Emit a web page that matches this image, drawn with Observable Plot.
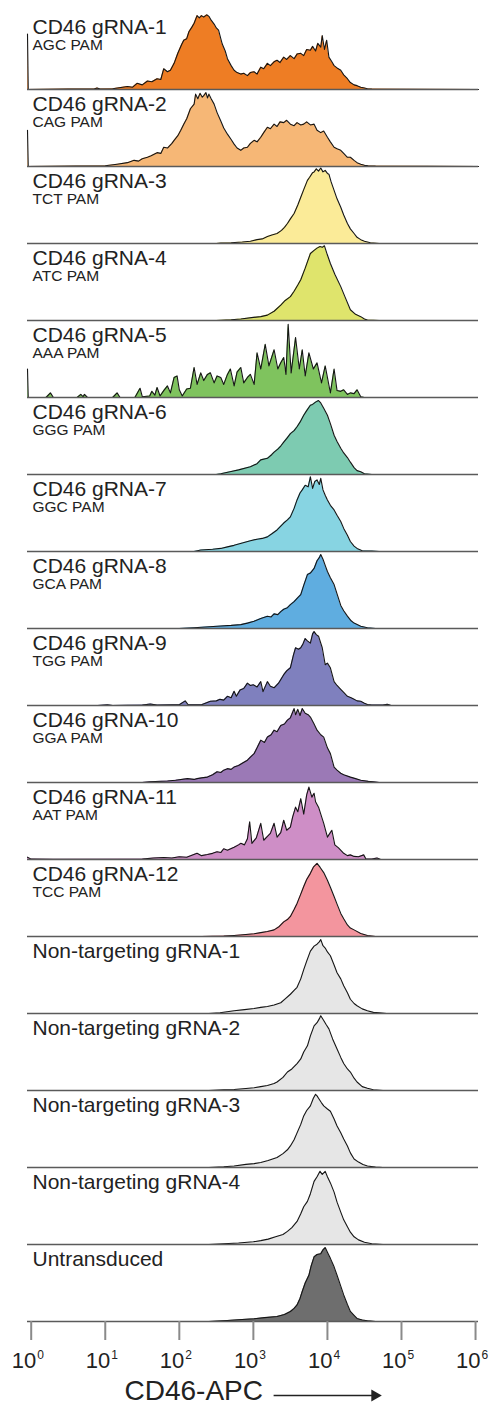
<!DOCTYPE html>
<html><head><meta charset="utf-8">
<script src="https://cdn.jsdelivr.net/npm/d3@7"></script>
<script src="https://cdn.jsdelivr.net/npm/@observablehq/plot@0.6"></script>
<style>body{margin:0;background:#fff}</style>
</head><body><div id="chart"></div>
<script>
const samples = ["CD46 gRNA-1","CD46 gRNA-2","CD46 gRNA-3","CD46 gRNA-4","CD46 gRNA-5","CD46 gRNA-6","CD46 gRNA-7","CD46 gRNA-8","CD46 gRNA-9","CD46 gRNA-10","CD46 gRNA-11","CD46 gRNA-12","Non-targeting gRNA-1","Non-targeting gRNA-2","Non-targeting gRNA-3","Non-targeting gRNA-4","Untransduced"];
const pams = ["AGC PAM","CAG PAM","TCT PAM","ATC PAM","AAA PAM","GGG PAM","GGC PAM","GCA PAM","TGG PAM","GGA PAM","AAT PAM","TCC PAM","","","","",""];
const fills = ["#EE7D24","#F6B776","#FBEB98","#DFE46C","#7FC35E","#7DCBB1","#87D4E2","#5FADE0","#7F80BE","#9B79B6","#CE8EC6","#F3959E","#E6E6E6","#E6E6E6","#E6E6E6","#E6E6E6","#6E6E6E"];
const tickValues = [1,10,100,1000,10000,100000,1000000];
const tickBase = "10";
const tickExponents = ["0","1","2","3","4","5","6"];
const axisTitle = "CD46-APC";

// each series: [log10(CD46-APC), % of mode]
const g1 = [[-0.05,72],[-0.04,0],[0.5,0.5],[0.85,0.5],[0.89,2],[0.93,0.5],[1.1,1],[1.3,4],[1.37,3],[1.43,8],[1.5,6],[1.57,11],[1.63,10],[1.7,14],[1.75,13],[1.79,27],[1.84,23],[1.88,25],[1.93,34],[1.98,47],[2.03,58],[2.06,64],[2.1,66],[2.13,75],[2.17,81],[2.2,86],[2.24,96],[2.27,93],[2.3,96],[2.33,94],[2.37,97],[2.4,95],[2.43,90],[2.47,85],[2.5,80],[2.53,77],[2.56,66],[2.58,59],[2.62,50],[2.65,40],[2.7,31],[2.74,25],[2.78,22],[2.83,20],[2.87,21],[2.92,18],[2.96,22],[3.01,23],[3.05,20],[3.1,29],[3.14,27],[3.19,34],[3.23,31],[3.28,36],[3.32,38],[3.36,35],[3.41,42],[3.45,39],[3.5,44],[3.55,40],[3.59,46],[3.64,47],[3.68,44],[3.72,52],[3.77,51],[3.8,56],[3.84,50],[3.87,60],[3.91,55],[3.93,70],[3.96,52],[3.99,64],[4.02,42],[4.06,36],[4.09,31],[4.13,28],[4.18,25],[4.22,19],[4.27,14],[4.31,9],[4.36,6],[4.4,5],[4.45,3],[4.5,2],[4.54,1],[4.6,0.5],[5,0.3],[6.04,0]];
const g2 = [[-0.05,47],[-0.04,0],[0.6,0.5],[1.0,1],[1.16,3],[1.3,5],[1.39,8],[1.45,7],[1.5,10],[1.57,12],[1.62,14],[1.7,18],[1.75,17],[1.79,25],[1.84,24],[1.9,30],[1.93,34],[1.98,40],[2.02,47],[2.06,55],[2.1,62],[2.15,75],[2.2,81],[2.22,94],[2.25,88],[2.28,95],[2.31,90],[2.33,92],[2.36,96],[2.38,89],[2.4,94],[2.43,88],[2.47,81],[2.51,70],[2.56,59],[2.6,50],[2.65,42],[2.7,35],[2.74,29],[2.78,24],[2.83,21],[2.87,24],[2.92,25],[2.96,30],[3.01,34],[3.05,32],[3.1,38],[3.14,44],[3.19,51],[3.23,49],[3.28,55],[3.32,52],[3.36,58],[3.41,57],[3.45,60],[3.5,55],[3.55,53],[3.59,57],[3.64,54],[3.68,55],[3.72,58],[3.77,54],[3.82,55],[3.86,47],[3.91,44],[3.95,46],[4.0,38],[4.04,32],[4.09,25],[4.13,23],[4.18,21],[4.22,17],[4.27,12],[4.31,12],[4.36,8],[4.4,5],[4.45,3],[4.5,1.5],[4.55,1],[4.65,0.5],[6.04,0]];
const g3 = [[2.5,0],[2.56,0.5],[2.7,1],[2.85,2],[2.96,3],[3.05,5],[3.12,6],[3.19,9],[3.25,11],[3.32,13],[3.38,17],[3.42,21],[3.46,26],[3.5,32],[3.55,39],[3.6,50],[3.64,60],[3.68,70],[3.73,82],[3.76,86],[3.8,92],[3.82,93],[3.85,97],[3.88,94],[3.91,98],[3.94,93],[3.97,95],[4.0,91],[4.02,90],[4.05,80],[4.09,69],[4.13,58],[4.18,47],[4.22,37],[4.27,26],[4.31,19],[4.36,13],[4.4,8],[4.45,5],[4.5,3],[4.58,1],[4.7,0]];
const g4 = [[2.5,0],[2.7,1],[2.83,2],[3.0,4],[3.1,5],[3.19,7],[3.28,12],[3.37,20],[3.43,26],[3.5,31],[3.55,38],[3.6,46],[3.64,53],[3.7,68],[3.77,87],[3.82,91],[3.86,94],[3.9,96],[3.93,95],[3.96,97],[4.0,85],[4.04,74],[4.1,60],[4.18,44],[4.24,30],[4.31,14],[4.38,8],[4.45,5],[4.5,2],[4.54,0.5],[4.7,0]];
const g5 = [[-0.05,37],[-0.04,0],[0.2,0],[0.26,6],[0.3,0],[0.62,0],[0.67,4],[0.7,1],[0.72,4],[0.76,0],[1.1,0],[1.16,6],[1.2,0],[1.4,0],[1.47,12],[1.5,1],[1.6,2],[1.63,8],[1.67,3],[1.7,13],[1.74,2],[1.79,9],[1.84,15],[1.88,6],[1.93,26],[1.97,28],[2.0,10],[2.04,2],[2.1,11],[2.15,12],[2.2,39],[2.24,17],[2.29,32],[2.33,22],[2.38,30],[2.42,32],[2.47,19],[2.51,28],[2.56,26],[2.6,17],[2.65,30],[2.69,37],[2.74,15],[2.78,33],[2.83,39],[2.87,19],[2.92,26],[2.96,30],[3.01,17],[3.05,58],[3.1,37],[3.16,69],[3.21,41],[3.28,62],[3.33,37],[3.37,45],[3.41,52],[3.44,30],[3.47,95],[3.51,32],[3.57,78],[3.62,37],[3.66,62],[3.7,28],[3.75,58],[3.81,37],[3.86,45],[3.92,19],[3.97,41],[4.04,6],[4.09,37],[4.13,9],[4.18,8],[4.22,10],[4.27,4],[4.31,6],[4.36,5],[4.4,10],[4.45,1],[4.5,0]];
const g6 = [[2.5,0],[2.56,1],[2.7,4],[2.8,6],[2.96,10],[3.05,14],[3.1,19],[3.19,21],[3.25,26],[3.28,29],[3.33,33],[3.37,37],[3.41,42],[3.46,48],[3.5,53],[3.55,57],[3.59,62],[3.63,68],[3.68,77],[3.72,83],[3.77,90],[3.8,91],[3.84,94],[3.88,96],[3.91,93],[3.95,86],[4.0,77],[4.04,66],[4.09,51],[4.13,43],[4.18,34],[4.22,28],[4.27,22],[4.31,16],[4.36,9],[4.4,5],[4.45,3.5],[4.5,1],[4.6,0]];
const g7 = [[2.2,0],[2.29,2],[2.45,3],[2.56,4],[2.65,6],[2.74,8],[2.85,11],[2.96,14],[3.05,16],[3.12,17],[3.19,19],[3.25,23],[3.32,28],[3.37,33],[3.41,37],[3.46,41],[3.5,45],[3.55,56],[3.59,67],[3.63,76],[3.66,80],[3.7,86],[3.74,84],[3.77,97],[3.8,82],[3.83,91],[3.86,93],[3.89,87],[3.91,95],[3.94,80],[3.97,73],[4.0,67],[4.04,60],[4.09,54],[4.13,47],[4.18,39],[4.22,30],[4.27,21],[4.31,13],[4.36,7],[4.4,4],[4.47,1],[4.6,0.5],[4.7,0]];
const g8 = [[2.0,0],[2.2,1],[2.51,3],[2.7,4],[2.83,5],[2.92,7],[3.01,9.5],[3.1,13],[3.19,16],[3.24,15],[3.28,19],[3.33,18],[3.37,22],[3.41,25],[3.46,27],[3.5,31],[3.55,35],[3.6,40],[3.64,44],[3.68,56],[3.73,70],[3.77,72],[3.82,78],[3.86,88],[3.89,92],[3.91,96],[3.94,90],[3.97,82],[4.0,74],[4.04,66],[4.09,57],[4.13,45],[4.18,30],[4.22,23],[4.27,16],[4.32,10],[4.36,7],[4.45,3],[4.54,1],[4.65,0]];
const g9 = [[0.9,0],[1.03,1],[1.1,0],[1.5,0.5],[1.61,2],[1.7,0.5],[1.9,1],[2.0,1],[2.08,6],[2.12,1],[2.3,1],[2.42,5.6],[2.5,6],[2.55,8],[2.6,7],[2.65,12],[2.7,10],[2.74,18.5],[2.77,12],[2.82,20],[2.87,22],[2.92,29],[2.96,26],[3.0,27],[3.05,24],[3.1,31],[3.13,18],[3.19,31],[3.23,25],[3.28,23],[3.34,29],[3.41,40],[3.45,45],[3.5,49],[3.54,65],[3.57,75],[3.61,73],[3.64,75],[3.67,80],[3.7,87],[3.73,84],[3.77,81],[3.8,93],[3.82,96],[3.85,92],[3.88,90],[3.93,75],[3.97,53],[4.0,55],[4.04,49],[4.09,31],[4.13,26],[4.18,21],[4.22,17],[4.27,12],[4.32,10],[4.36,8],[4.4,6],[4.45,5.6],[4.5,3],[4.54,1.3],[4.6,0.5],[4.75,0.5],[4.81,1.5],[4.86,0]];
const g10 = [[1.5,0],[1.6,1],[1.84,2],[1.95,3],[2.11,5],[2.2,4],[2.24,5],[2.3,6],[2.38,7],[2.45,10],[2.51,14],[2.56,13],[2.6,16],[2.65,18],[2.7,17],[2.74,20],[2.8,22],[2.85,25],[2.92,29],[2.96,33],[3.01,37.5],[3.05,45],[3.1,55],[3.15,52],[3.19,59],[3.24,62],[3.28,68],[3.32,66],[3.37,74],[3.42,76],[3.46,81],[3.5,84],[3.55,96],[3.57,88],[3.6,95],[3.63,87],[3.66,96],[3.7,90],[3.74,88],[3.77,85],[3.82,76],[3.86,68],[3.91,62],[3.95,59],[4.0,45],[4.04,37.5],[4.09,20],[4.13,16],[4.18,12],[4.22,10],[4.31,7],[4.38,5],[4.45,3],[4.55,1.5],[4.62,1],[4.7,0]];
const g11 = [[-0.05,3],[0.0,0.5],[0.3,0.3],[1.5,0.5],[1.65,2],[1.79,2.6],[1.9,2],[2.0,3.5],[2.1,3],[2.24,8],[2.3,5],[2.38,6.5],[2.45,8],[2.51,10],[2.56,9],[2.6,14],[2.65,12],[2.74,16],[2.8,19],[2.83,21],[2.88,19],[2.92,27],[2.95,49],[2.98,21],[3.04,28],[3.1,47],[3.14,25],[3.19,30],[3.23,34],[3.28,47],[3.32,29],[3.37,35],[3.41,51],[3.45,38],[3.5,42],[3.53,55],[3.57,68],[3.6,62],[3.64,79],[3.68,59],[3.72,84],[3.75,94],[3.79,81],[3.82,86],[3.84,75],[3.88,68],[3.95,47],[4.0,29],[4.06,38],[4.1,19],[4.15,15],[4.22,8],[4.27,5],[4.31,6],[4.36,4],[4.42,3.5],[4.49,6],[4.52,0.5],[4.6,0.5],[4.67,2],[4.72,0]];
const g12 = [[2.3,0],[2.6,0.5],[2.74,1.3],[2.9,2.5],[3.01,3.5],[3.1,5],[3.19,6.5],[3.28,8.6],[3.35,13],[3.41,19],[3.46,22],[3.5,26],[3.55,35],[3.59,43],[3.64,55],[3.68,65],[3.72,74],[3.77,82],[3.81,90],[3.86,95],[3.9,90],[3.95,83],[4.0,73],[4.04,64],[4.09,52],[4.13,42],[4.18,30],[4.22,23],[4.27,15],[4.31,11],[4.36,8.6],[4.45,4],[4.54,1.3],[4.65,0]];
const nt1 = [[2.4,0],[2.55,1],[2.74,3.5],[2.88,5],[3.01,6.5],[3.1,8],[3.19,9],[3.28,11],[3.37,14],[3.43,19],[3.5,25],[3.55,30],[3.59,34],[3.64,45],[3.68,57],[3.72,68],[3.77,81],[3.82,87.5],[3.86,90],[3.89,93],[3.91,96],[3.94,88],[3.97,85],[4.0,80],[4.04,75],[4.09,63],[4.13,53],[4.18,45],[4.22,36],[4.27,27],[4.31,18.5],[4.36,13],[4.4,10],[4.47,6],[4.54,3.5],[4.62,1.5],[4.7,1],[4.8,0]];
const nt2 = [[2.4,0],[2.6,1],[2.74,1.3],[2.9,2.5],[3.01,3.5],[3.1,5],[3.19,6.5],[3.28,9],[3.32,11],[3.4,17],[3.46,24],[3.52,28],[3.59,35],[3.64,41],[3.68,50],[3.73,58],[3.77,71],[3.82,84],[3.86,88],[3.89,93],[3.91,97],[3.95,91],[3.98,86],[4.02,80],[4.07,67],[4.13,54],[4.18,43],[4.22,35],[4.27,28],[4.31,24],[4.36,16],[4.4,11],[4.47,5],[4.54,3],[4.62,1],[4.75,0]];
const nt3 = [[2.4,0],[2.6,1],[2.74,2],[2.9,4],[3.01,5],[3.1,6.5],[3.2,9],[3.32,13],[3.4,18],[3.46,23],[3.5,28],[3.55,36],[3.59,45],[3.64,56],[3.68,67],[3.72,74],[3.77,80],[3.81,90],[3.84,95],[3.86,93],[3.88,90],[3.92,84],[3.95,80],[4.0,76],[4.04,73],[4.09,63],[4.13,54],[4.18,45],[4.22,37],[4.27,28],[4.31,19],[4.36,11],[4.42,7],[4.48,4],[4.54,2],[4.65,0.5],[4.75,0]];
const nt4 = [[2.4,0],[2.6,1],[2.8,2],[3.0,3.5],[3.1,5],[3.2,7],[3.3,10],[3.4,13],[3.46,17],[3.52,22],[3.59,30],[3.64,40],[3.68,49],[3.73,56],[3.77,66],[3.82,82],[3.86,88],[3.9,95],[3.93,91],[3.97,95],[4.0,88],[4.04,80],[4.09,68],[4.13,55],[4.18,42],[4.22,32],[4.27,23],[4.31,16],[4.36,10],[4.42,6],[4.5,3],[4.6,1],[4.75,0]];
const unt = [[2.4,0],[2.65,1.3],[2.85,2.5],[3.01,3.5],[3.15,5],[3.32,6.5],[3.42,9],[3.5,13],[3.55,17],[3.59,21.5],[3.63,30],[3.66,39],[3.7,50],[3.75,60],[3.78,72],[3.82,84],[3.86,87],[3.91,88],[3.94,93],[3.97,96],[4.0,90],[4.04,82],[4.09,71],[4.13,60],[4.18,46],[4.22,34.5],[4.27,22],[4.31,13],[4.36,8],[4.4,4],[4.47,2],[4.54,1],[4.65,0]];

const series = [g1,g2,g3,g4,g5,g6,g7,g8,g9,g10,g11,g12,nt1,nt2,nt3,nt4,unt];
const rows = samples.flatMap((s, i) => series[i].map(([lx, v]) => ({sample: s, x: 10 ** lx, y: v})));
const labels = samples.map((s, i) => ({sample: s, name: s, pam: pams[i]}));
const lastSample = samples[samples.length - 1];
const tickData = tickValues.map((v, i) => ({sample: lastSample, v, base: tickBase, exp: tickExponents[i]}));
const titleData = [{sample: lastSample, text: axisTitle}];
const arrowData = [{sample: lastSample, x1: 10 ** 3.28, x2: 10 ** 4.64}];
const font = "'Liberation Sans', Arial, sans-serif";

const chart = Plot.plot({
  width: 492, height: 1414,
  marginLeft: 27, marginRight: 14, marginTop: 9, marginBottom: 91,
  style: {fontFamily: font, background: "#fff", overflow: "visible"},
  x: {type: "log", domain: [10 ** -0.05, 10 ** 6.04]},
  y: {domain: [0, 100], axis: null},
  fy: {domain: samples, padding: 0, axis: null},
  color: {domain: samples, range: fills},
  marks: [
    Plot.areaY(rows, {x: "x", y: "y", fy: "sample", z: "sample", fill: "sample"}),
    Plot.lineY(rows, {x: "x", y: "y", fy: "sample", z: "sample", stroke: "#151515", strokeWidth: 1.1}),
    Plot.ruleY([0], {stroke: "#5a5a5a", strokeWidth: 1.6}),
    Plot.text(labels, {fy: "sample", text: "name", frameAnchor: "top-left", textAnchor: "start", lineAnchor: "bottom", dx: 5, dy: 21.5, fontSize: 21, fill: "#222"}),
    Plot.text(labels, {fy: "sample", text: "pam", frameAnchor: "top-left", textAnchor: "start", lineAnchor: "bottom", dx: 5, dy: 37, fontSize: 15.5, fill: "#222"}),
    Plot.axisX({ticks: tickValues, tickFormat: () => "", tickSize: 19, stroke: "#8a8a8a", strokeWidth: 2, label: null}),
    Plot.text(tickData, {fy: "sample", x: "v", text: "base", frameAnchor: "bottom", textAnchor: "end", lineAnchor: "bottom", dx: 5, dy: 46, fontSize: 22, fill: "#222"}),
    Plot.text(tickData, {fy: "sample", x: "v", text: "exp", frameAnchor: "bottom", textAnchor: "start", lineAnchor: "bottom", dx: 6, dy: 37.5, fontSize: 12, fill: "#222"}),
    Plot.text(titleData, {fy: "sample", text: "text", frameAnchor: "bottom-left", textAnchor: "start", lineAnchor: "bottom", dx: 97, dy: 78, fontSize: 28, fill: "#222"}),
    Plot.ruleY(arrowData, {fy: "sample", x1: "x1", x2: "x2", y: 0, dy: 74, stroke: "#222", strokeWidth: 1.5}),
    Plot.dot(arrowData, {fy: "sample", x: "x2", y: 0, dy: 74, symbol: "triangle", rotate: 90, r: 4.5, fill: "#222", stroke: "none"})
  ]
});
document.getElementById("chart").appendChild(chart);
</script>
</body></html>
